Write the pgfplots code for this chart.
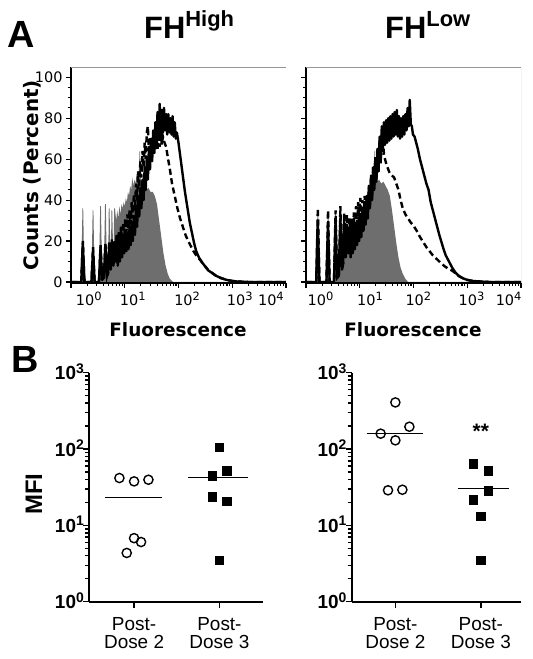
\documentclass[border=0pt]{standalone}
\usepackage{fontspec}
\setmainfont{Liberation Sans}
\newfontfamily\dejavu{DejaVu Sans}
\usepackage{pgfplots}
\pgfplotsset{compat=1.18}
\definecolor{histgray}{RGB}{110,110,110}
\definecolor{boxgray}{RGB}{150,150,150}
\newcommand{\tl}[1]{10\raisebox{5.5bp}{\fontsize{11.5}{11.5}\selectfont #1}}
\newcommand{\bl}[1]{\textbf{10\raisebox{6.5bp}{\fontsize{14}{14}\selectfont #1}}}
\pgfplotsset{
 histo/.style={
  scale only axis, width=215bp, height=216bp,
  xmin=0, xmax=4, ymin=-0.5, ymax=105,
  axis x line*=bottom, axis y line*=left,
  axis line style={line width=1.8bp, -},
  tick align=outside,
  xtick={0,1,2,3,4}, xticklabels={},
  minor xtick={0.301,0.477,0.602,0.699,0.778,0.845,0.903,0.954,1.301,1.477,1.602,1.699,1.778,1.845,1.903,1.954,2.301,2.477,2.602,2.699,2.778,2.845,2.903,2.954,3.301,3.477,3.602,3.699,3.778,3.845,3.903,3.954},
  ytick={0,20,40,60,80,100},
  minor ytick={5,10,15,25,30,35,45,50,55,65,70,75,85,90,95},
  major tick length=5bp, minor tick length=3bp,
  every tick/.append style={black, line width=1.1bp},
  tick label style={font=\dejavu\fontsize{14.5}{14.5}\selectfont},
  xticklabel style={anchor=base, yshift=-23bp},
  extra x tick style={major tick length=0pt},
 },
 mfi/.style={
  scale only axis, height=229bp,
  ymin=1, ymax=1000,
  axis lines=left, axis line style={line width=2.2bp, -},
  tick align=outside,
  xtick={1,2}, xticklabels={{Post-\\Dose 2},{Post-\\Dose 3}},
  ytick={1,10,100,1000},
  yticklabels={\bl{0},\bl{1},\bl{2},\bl{3}},
  minor ytick={2,3,4,5,6,7,8,9,20,30,40,50,60,70,80,90,200,300,400,500,600,700,800,900},
  major tick length=6bp, minor tick length=4bp,
  every tick/.append style={black, line width=1.5bp},
  xticklabel style={align=center, font=\fontsize{19}{18}\selectfont, yshift=-6bp},
  yticklabel style={font=\fontsize{19}{19}\selectfont, anchor=base east, yshift=-7bp, xshift=2bp, inner sep=1bp},
  clip=false,
 },
 hline/.style={black, line width=1.3bp},
 circ/.style={only marks, mark=o, mark size=4.6bp, mark options={line width=1.4bp, fill=white, draw=black}},
 sq/.style={only marks, mark=square*, mark size=4.2bp, mark options={fill=black, draw=black}},
 solidh/.style={black, line width=2.4bp, line join=round},
 dashh/.style={black, line width=2.4bp, dash pattern=on 6bp off 3.5bp},
}
\begin{document}
\begin{tikzpicture}
\path[use as bounding box] (0,0) rectangle (533bp,659bp);

% ---------- top left histogram ----------
\begin{axis}[histo, at={(71bp,376bp)}, anchor=south west,
  yticklabels={0,20,40,60,80,100},
  extra x ticks={0.33,1.15,2.16,3.14,3.72},
  extra x tick labels={\tl{0},\tl{1},\tl{2},\tl{3},\tl{4}}]
\addplot[fill=histgray, draw=none] coordinates {
(0,0) (0.19,0) (0.213,36) (0.227,36) (0.25,0) (0.38,0) (0.403,35) (0.417,35) (0.44,0) (0.52,0) (0.543,37) (0.557,37) (0.58,1) (0.61,2) (0.633,38) (0.647,38) (0.67,3) (0.69,4) (0.703,36) (0.717,36) (0.74,6) (0.753,35) (0.767,35) (0.79,8) (0.803,36) (0.817,36) (0.84,30) (0.86,35) (0.88,31) (0.90,37) (0.92,33) (0.94,38) (0.96,36) (0.98,39) (1.00,37) (1.02,41) (1.04,39) (1.06,44) (1.08,42) (1.10,47) (1.12,45) (1.14,51) (1.16,47) (1.18,50) (1.20,48) (1.22,53) (1.24,50) (1.26,52) (1.275,64) (1.285,64) (1.30,48) (1.33,46) (1.36,47) (1.40,45) (1.44,46) (1.48,44) (1.52,44) (1.56,42) (1.60,38) (1.64,30) (1.68,22) (1.72,14) (1.76,8) (1.80,4) (1.84,1.5) (1.90,0) (4,0)} \closedcycle;
\addplot[dashh] coordinates {
(0,0) (0.19,0) (0.22,20) (0.25,0) (0.38,0) (0.41,17) (0.44,0) (0.52,0) (0.55,18) (0.58,1) (0.61,2) (0.64,19) (0.67,3) (0.69,5) (0.71,20) (0.74,7) (0.76,21) (0.79,9) (0.81,20) (0.83,10) (0.85,23) (0.87,12) (0.89,25) (0.91,15) (0.93,27) (0.95,18) (0.97,29) (0.99,21) (1.01,31) (1.03,24) (1.05,33) (1.07,26) (1.09,35) (1.11,28) (1.13,39) (1.15,31) (1.17,43) (1.19,35) (1.21,48) (1.23,40) (1.25,54) (1.27,46) (1.29,59) (1.31,51) (1.33,64) (1.35,56) (1.37,68) (1.39,60) (1.41,73) (1.43,76) (1.45,64) (1.47,71) (1.49,62) (1.51,69) (1.53,63) (1.55,71) (1.57,64) (1.59,72) (1.61,65) (1.63,73) (1.65,66) (1.67,72) (1.69,67) (1.71,71) (1.74,68) (1.77,66) (1.80,61) (1.84,55) (1.88,48) (1.93,42) (1.98,36) (2.03,31) (2.08,27) (2.13,23) (2.18,20) (2.23,17.5) (2.28,15) (2.33,13) (2.38,11.5) (2.44,9.5) (2.50,7.5) (2.56,5.5) (2.62,4.5) (2.70,3) (2.80,1.8) (2.90,1) (3.00,0.5) (3.10,0.2) (3.3,0) (4,0)};
\addplot[solidh] coordinates {
(0,0) (0.19,0) (0.22,19) (0.25,0) (0.38,0) (0.41,15) (0.44,0) (0.52,0) (0.55,17) (0.58,1) (0.61,2) (0.64,18) (0.67,3) (0.69,4) (0.71,18) (0.74,6) (0.76,19) (0.79,8) (0.81,18) (0.83,10) (0.85,22) (0.87,8) (0.89,22) (0.91,10) (0.93,24) (0.95,12) (0.97,23) (0.99,14) (1.01,25) (1.03,15) (1.05,24) (1.07,16) (1.09,27) (1.11,18) (1.13,29) (1.15,20) (1.17,32) (1.19,23) (1.21,37) (1.23,27) (1.25,42) (1.27,32) (1.29,46) (1.31,36) (1.33,50) (1.35,40) (1.37,56) (1.39,45) (1.41,61) (1.43,50) (1.45,66) (1.47,55) (1.49,70) (1.51,59) (1.53,74) (1.55,63) (1.57,78) (1.59,68) (1.61,83) (1.63,70) (1.65,87) (1.67,72) (1.69,84) (1.71,73) (1.73,85) (1.75,74) (1.77,82) (1.79,72) (1.81,82) (1.83,73) (1.85,80) (1.87,72) (1.89,81) (1.91,71) (1.93,78) (1.95,70) (1.97,73) (2.00,68) (2.03,62) (2.06,56) (2.09,50) (2.12,44) (2.15,39) (2.18,34) (2.21,29) (2.25,24) (2.29,19) (2.33,15) (2.38,12) (2.44,9.5) (2.50,7.5) (2.56,5.5) (2.62,4.5) (2.70,3) (2.80,1.8) (2.90,1) (3.00,0.5) (3.10,0.2) (3.3,0) (4,0)};
\draw[boxgray, line width=0.8bp] (rel axis cs:0,1) -- (rel axis cs:1,1) -- (rel axis cs:1,0);
\end{axis}

% ---------- top right histogram ----------
\begin{axis}[histo, at={(306bp,376bp)}, anchor=south west,
  yticklabels={},
  extra x ticks={0.27,1.19,2.09,3.08,3.77},
  extra x tick labels={\tl{0},\tl{1},\tl{2},\tl{3},\tl{4}}]
\addplot[fill=histgray, draw=none] coordinates {
(0,0) (0.19,0) (0.213,34) (0.227,34) (0.25,0) (0.38,0) (0.403,33) (0.417,33) (0.44,0) (0.52,0) (0.543,34) (0.557,34) (0.58,1) (0.61,2) (0.633,35) (0.647,35) (0.67,5) (0.69,8) (0.71,34) (0.74,12) (0.76,33) (0.79,15) (0.81,30) (0.84,18) (0.87,21) (0.90,24) (0.93,26) (0.96,28) (0.99,30) (1.02,31) (1.05,33) (1.08,36) (1.11,38) (1.14,41) (1.17,43) (1.20,46) (1.23,48) (1.26,55) (1.275,64) (1.285,64) (1.30,50) (1.33,49) (1.36,50) (1.40,48) (1.44,49) (1.48,47) (1.52,45) (1.56,42) (1.60,35) (1.64,27) (1.68,19) (1.72,12) (1.76,7) (1.80,4) (1.85,1.5) (1.90,0) (4,0)} \closedcycle;
\addplot[dashh] coordinates {
(0,0) (0.19,0) (0.22,36) (0.25,0) (0.38,0) (0.41,35) (0.44,0) (0.52,0) (0.55,35) (0.58,2) (0.61,3) (0.64,37) (0.67,6) (0.69,9) (0.71,34) (0.74,13) (0.76,33) (0.79,16) (0.81,31) (0.83,17) (0.85,31) (0.87,19) (0.89,34) (0.91,22) (0.93,37) (0.95,26) (0.97,39) (0.99,29) (1.01,41) (1.03,31) (1.05,40) (1.07,32) (1.09,42) (1.11,33) (1.13,41) (1.15,36) (1.17,46) (1.19,38) (1.21,51) (1.23,42) (1.25,57) (1.27,47) (1.29,61) (1.31,50) (1.33,65) (1.35,54) (1.37,69) (1.39,58) (1.41,73) (1.43,74) (1.45,62) (1.47,60) (1.50,57) (1.53,55) (1.56,53) (1.60,52) (1.64,51) (1.68,48) (1.72,45) (1.76,40) (1.80,36) (1.85,33) (1.90,31) (1.95,29) (2.00,27.5) (2.06,25) (2.12,22) (2.18,19.5) (2.24,17) (2.30,15) (2.36,13) (2.42,11.5) (2.48,10) (2.54,8.5) (2.60,7.3) (2.66,6.3) (2.72,5.5) (2.78,4.3) (2.85,2.8) (2.92,1.8) (3.00,1) (3.10,0.5) (3.25,0.2) (3.4,0) (4,0)};
\addplot[solidh] coordinates {
(0,0) (0.19,0) (0.22,30) (0.25,0) (0.38,0) (0.41,28) (0.44,0) (0.52,0) (0.55,30) (0.58,2) (0.61,3) (0.64,31) (0.67,6) (0.69,9) (0.71,30) (0.74,12) (0.76,28) (0.79,14) (0.81,26) (0.83,12) (0.85,26) (0.87,14) (0.89,27) (0.91,16) (0.93,29) (0.95,18) (0.97,30) (0.99,20) (1.01,33) (1.03,22) (1.05,36) (1.07,25) (1.09,39) (1.11,28) (1.13,42) (1.15,31) (1.17,47) (1.19,36) (1.21,52) (1.23,40) (1.25,56) (1.27,45) (1.29,60) (1.31,49) (1.33,65) (1.35,54) (1.37,71) (1.39,60) (1.41,76) (1.43,64) (1.45,78) (1.47,67) (1.49,79) (1.51,68) (1.53,80) (1.55,69) (1.57,81) (1.59,70) (1.61,82) (1.63,71) (1.65,83) (1.67,72) (1.69,84) (1.71,71) (1.73,81) (1.75,70) (1.77,80) (1.79,71) (1.81,81) (1.83,72) (1.85,82) (1.87,74) (1.89,85) (1.91,76) (1.93,89) (1.95,77) (1.97,76) (1.99,72) (2.02,71) (2.05,68) (2.08,65) (2.12,60) (2.16,56) (2.20,52) (2.24,48) (2.28,45) (2.32,39) (2.36,35) (2.40,31) (2.44,27) (2.48,23) (2.52,19.5) (2.56,16) (2.60,13) (2.64,11) (2.68,9) (2.72,7) (2.78,4.6) (2.85,2.8) (2.92,1.8) (3.00,1) (3.10,0.5) (3.25,0.2) (3.4,0) (4,0)};
\draw[boxgray, line width=0.8bp] (rel axis cs:0,1) -- (rel axis cs:1,1) -- (rel axis cs:1,0);
\end{axis}

% ---------- bottom left MFI ----------
\begin{semilogyaxis}[mfi, at={(89bp,57.3bp)}, anchor=south west, width=174bp,
  xmin=0.472, xmax=2.51]
\addplot[circ] coordinates {(0.828,41.7) (1.0,37.7) (1.168,39.6) (1.0,6.8) (1.082,6.05) (0.914,4.35)};
\addplot[sq] coordinates {(2.0,106) (1.918,44.7) (2.087,52) (1.918,23.8) (2.087,20.8) (2.0,3.5)};
\addplot[hline] coordinates {(0.66,23.3) (1.33,23.3)};
\addplot[hline] coordinates {(1.633,42.5) (2.337,42.5)};
\end{semilogyaxis}

% ---------- bottom right MFI ----------
\begin{semilogyaxis}[mfi, at={(351.7bp,57.3bp)}, anchor=south west, width=169.3bp,
  xmin=0.489, xmax=2.47]
\addplot[circ] coordinates {(1.0,408) (1.164,196) (0.828,159) (1.0,130) (0.914,28.8) (1.082,29.3)};
\addplot[sq] coordinates {(1.914,64.3) (2.086,52) (2.086,28.4) (1.914,21.7) (2.0,13.1) (2.0,3.5)};
\addplot[hline] coordinates {(0.665,159) (1.328,159)};
\addplot[hline] coordinates {(1.73,30.6) (2.33,30.6)};
\node[font=\bfseries\fontsize{21}{21}\selectfont] at (axis cs:2,170) {**};
\end{semilogyaxis}

% ---------- texts ----------
\node[anchor=base west, inner sep=0, font=\bfseries\fontsize{38}{38}\selectfont] at (7bp,611bp) {A};
\node[anchor=base west, inner sep=0, font=\bfseries\fontsize{38}{38}\selectfont] at (11bp,286bp) {B};
\node[anchor=base west, inner sep=0, font=\bfseries\fontsize{31}{31}\selectfont] at (144bp,620.7bp) {FH\raisebox{12bp}{\fontsize{22}{22}\selectfont High}};
\node[anchor=base west, inner sep=0, font=\bfseries\fontsize{31}{31}\selectfont] at (385bp,620.7bp) {FH\raisebox{12bp}{\fontsize{22}{22}\selectfont Low}};
\node[rotate=90, inner sep=0, font=\dejavu\bfseries\fontsize{20}{20}\selectfont] at (32bp,484bp) {Counts (Percent)};
\node[anchor=base, inner sep=0, font=\dejavu\bfseries\fontsize{18.5}{18.5}\selectfont] at (178bp,322bp) {Fluorescence};
\node[anchor=base, inner sep=0, font=\dejavu\bfseries\fontsize{18.5}{18.5}\selectfont] at (413bp,322bp) {Fluorescence};
\node[rotate=90, inner sep=0, font=\bfseries\fontsize{24}{24}\selectfont] at (34bp,165bp) {MFI};
\end{tikzpicture}
\end{document}
